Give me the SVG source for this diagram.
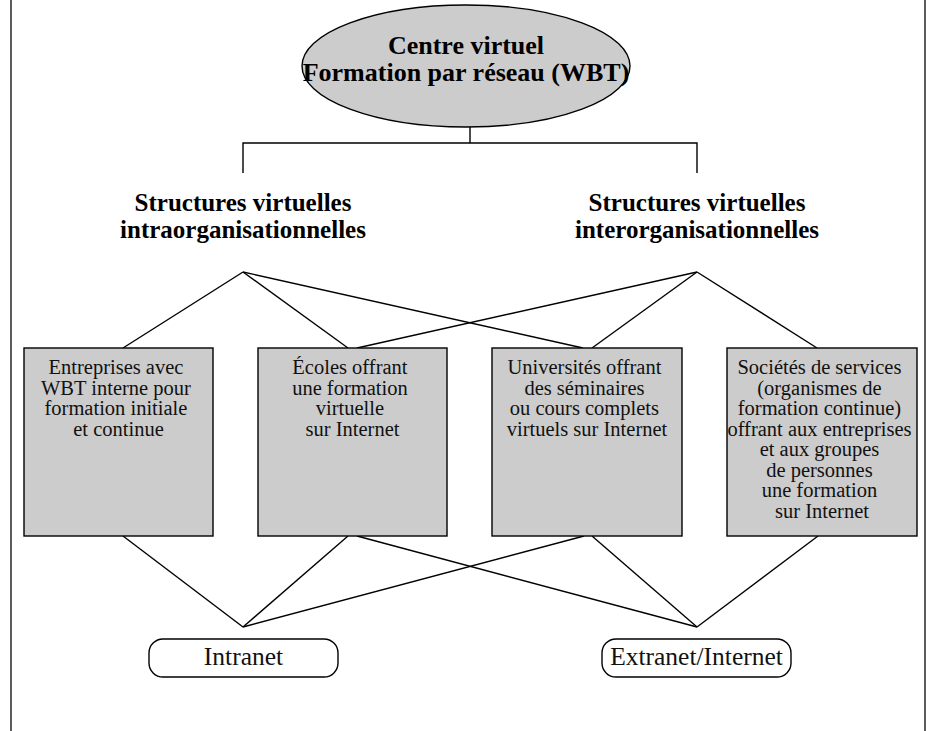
<svg xmlns="http://www.w3.org/2000/svg" width="933" height="731" viewBox="0 0 933 731">
  <style>
    .ln { stroke: #000; stroke-width: 1.4; fill: none; }
    .frame { stroke: #333; stroke-width: 1.6; }
    .box { fill: #cccccc; stroke: #000; stroke-width: 1.4; }
    .pill { fill: #fff; stroke: #000; stroke-width: 1.4; }
    .bold { font-family: "Liberation Serif", "Times New Roman", serif; font-weight: bold; font-size: 26px; fill: #000; text-anchor: middle; }
    .head { font-size: 25px; }
    .body { font-family: "Liberation Serif", "Times New Roman", serif; font-size: 20.5px; fill: #111; text-anchor: middle; }
    .net { font-family: "Liberation Serif", "Times New Roman", serif; font-size: 25.5px; fill: #111; text-anchor: middle; }
  </style>
  <rect width="933" height="731" fill="#fff"/>

  <!-- side rules of the page frame -->
  <line class="frame" x1="11" y1="0" x2="11" y2="731"/>
  <line class="frame" x1="925" y1="0" x2="925" y2="731"/>

  <!-- connectors -->
  <g id="connectors">
    <polyline class="ln" points="470,127 470,143"/>
    <polyline class="ln" points="243,173 243,143 697,143 697,173"/>
    <!-- intra apex to boxes -->
    <line class="ln" x1="243" y1="272" x2="123" y2="348"/>
    <line class="ln" x1="243" y1="272" x2="348" y2="348"/>
    <line class="ln" x1="243" y1="272" x2="583" y2="348"/>
    <!-- inter apex to boxes -->
    <line class="ln" x1="697" y1="272" x2="357" y2="348"/>
    <line class="ln" x1="697" y1="272" x2="592" y2="348"/>
    <line class="ln" x1="697" y1="272" x2="817" y2="348"/>
    <!-- boxes to Intranet -->
    <line class="ln" x1="123" y1="536" x2="243" y2="627"/>
    <line class="ln" x1="348" y1="536" x2="243" y2="627"/>
    <line class="ln" x1="584" y1="536" x2="243" y2="627"/>
    <!-- boxes to Extranet/Internet -->
    <line class="ln" x1="357" y1="536" x2="697" y2="627"/>
    <line class="ln" x1="592" y1="536" x2="697" y2="627"/>
    <line class="ln" x1="818" y1="536" x2="697" y2="627"/>
  </g>

  <g id="centre">
    <ellipse cx="466" cy="66" rx="164" ry="61" fill="#cccccc" stroke="#000" stroke-width="1.4"/>
    <text class="bold" x="466" y="54">Centre virtuel</text>
    <text class="bold" x="466" y="81">Formation par réseau (WBT)</text>
  </g>

  <g id="intra">
    <text class="bold head" x="243" y="211">Structures virtuelles</text>
    <text class="bold head" x="243" y="238">intraorganisationnelles</text>
  </g>

  <g id="inter">
    <text class="bold head" x="697" y="211">Structures virtuelles</text>
    <text class="bold head" x="697" y="238">interorganisationnelles</text>
  </g>

  <g id="entreprises">
    <rect class="box" x="24" y="348" width="189" height="188"/>
    <text class="body" x="118.5" y="374">
      <tspan x="118.5">Entreprises avec</tspan>
      <tspan x="118.5" dy="20.5">WBT interne pour</tspan>
      <tspan x="118.5" dy="20.5">formation initiale</tspan>
      <tspan x="118.5" dy="20.5">et continue</tspan>
    </text>
  </g>

  <g id="ecoles">
    <rect class="box" x="258" y="348" width="189" height="188"/>
    <text class="body" x="352.5" y="374">
      <tspan x="352.5">Écoles offrant</tspan>
      <tspan x="352.5" dy="20.5">une formation</tspan>
      <tspan x="352.5" dy="20.5">virtuelle</tspan>
      <tspan x="352.5" dy="20.5">sur Internet</tspan>
    </text>
  </g>

  <g id="universites">
    <rect class="box" x="492" y="348" width="190" height="188"/>
    <text class="body" x="587" y="374">
      <tspan x="587">Universités offrant</tspan>
      <tspan x="587" dy="20.5">des séminaires</tspan>
      <tspan x="587" dy="20.5">ou cours complets</tspan>
      <tspan x="587" dy="20.5">virtuels sur Internet</tspan>
    </text>
  </g>

  <g id="societes">
    <rect class="box" x="727" y="348" width="190" height="188"/>
    <text class="body" x="822" y="374">
      <tspan x="822">Sociétés de services</tspan>
      <tspan x="822" dy="20.5">(organismes de</tspan>
      <tspan x="822" dy="20.5">formation continue)</tspan>
      <tspan x="822" dy="20.5">offrant aux entreprises</tspan>
      <tspan x="822" dy="20.5">et aux groupes</tspan>
      <tspan x="822" dy="20.5">de personnes</tspan>
      <tspan x="822" dy="20.5">une formation</tspan>
      <tspan x="822" dy="20.5">sur Internet</tspan>
    </text>
  </g>

  <g id="intranet">
    <rect class="pill" x="149" y="639" width="189" height="38" rx="14" ry="14"/>
    <text class="net" x="243.5" y="665">Intranet</text>
  </g>

  <g id="extranet">
    <rect class="pill" x="602" y="639" width="189" height="38" rx="14" ry="14"/>
    <text class="net" x="696.5" y="665">Extranet/Internet</text>
  </g>
</svg>
